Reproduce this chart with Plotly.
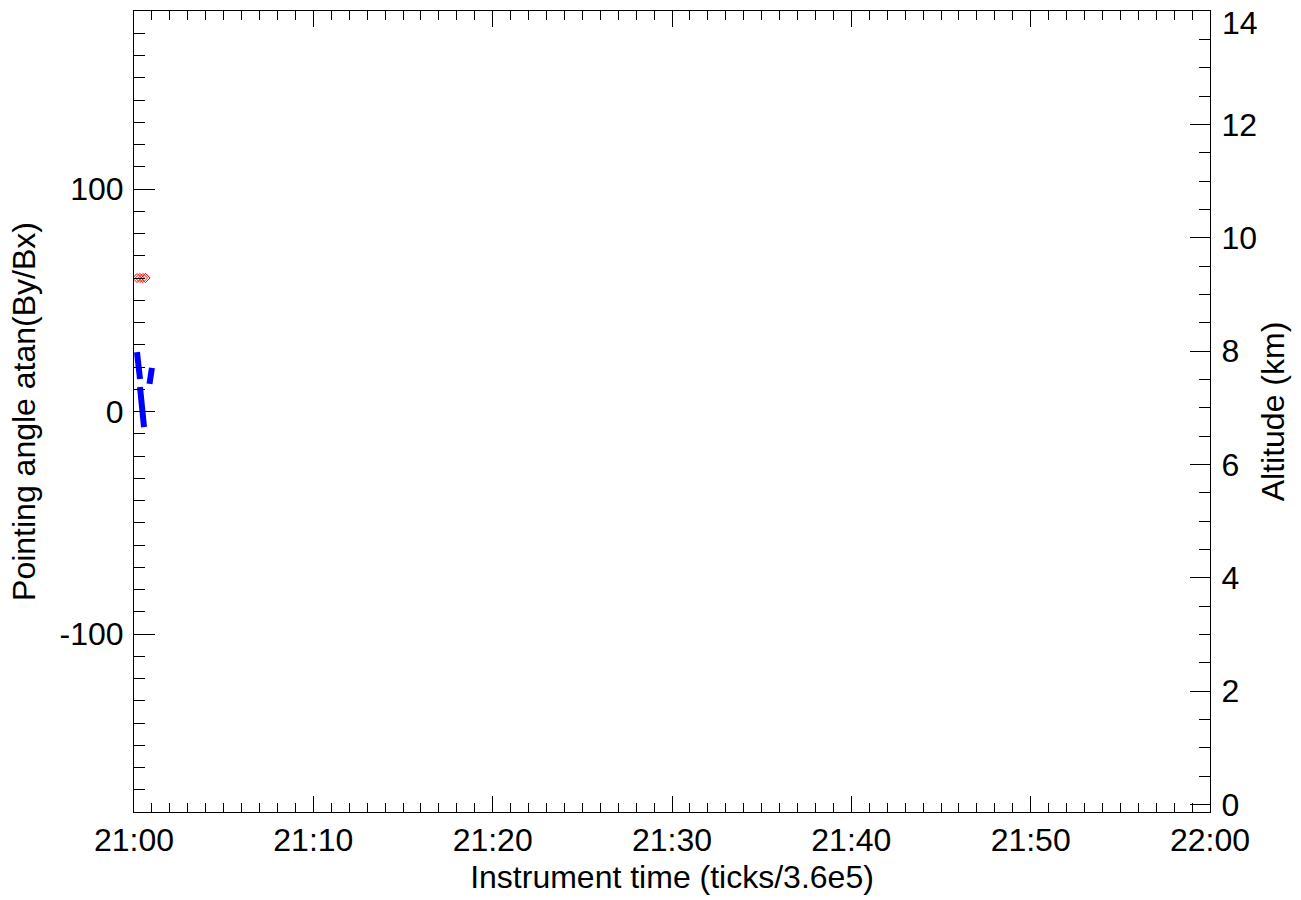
import plotly.graph_objects as go
from datetime import datetime, timedelta

# ---- data ----
base_time = "2000-01-01 21:00:00"
blue_minutes = [0.167, 0.335, None, 0.335, 0.558, None, 0.864, 1.0]
blue_angle = [26.7, 14.6, None, 11.0, -7.0, None, 12.4, 19.6]
red_minutes = [0.17, 0.33, 0.50, 0.64]
red_angle = [60, 60, 60, 60]
x_range = ["2000-01-01 21:00:00", "2000-01-01 22:00:00"]
y_range = [-180, 180]
y_tickvals = [-100, 0, 100]
y_ticktext = ["-100", "0", "100"]
y2_range = [-0.135, 14.0]
y2_tickvals = [0, 2, 4, 6, 8, 10, 12, 14]
y2_ticktext = ["0", "2", "4", "6", "8", "10", "12", "14"]

t0 = datetime.strptime(base_time, "%Y-%m-%d %H:%M:%S")


def to_time(m):
    return None if m is None else t0 + timedelta(minutes=m)


FONT = "Liberation Sans, Arial, sans-serif"
FS = 32
fig = go.Figure()
fig.add_trace(go.Scatter(
    x=[to_time(m) for m in blue_minutes], y=blue_angle, mode="lines",
    line=dict(color="#0000ff", width=6), connectgaps=False, showlegend=False,
    hoverinfo="skip"))
fig.add_trace(go.Scatter(
    x=[to_time(m) for m in red_minutes], y=red_angle, mode="markers",
    marker=dict(symbol="diamond-open", color="#ff0000", size=7,
                line=dict(width=1, color="#ff0000")),
    showlegend=False))
# empty trace so the altitude axis is drawn
fig.add_trace(go.Scatter(x=[], y=[], yaxis="y2", showlegend=False))

# the top label of the altitude axis sits just below its tick (as in the source)
top_val, top_txt = y2_tickvals[-1], y2_ticktext[-1]
fig.add_annotation(
    text=top_txt, xref="paper", x=1, yref="y2", y=top_val,
    xanchor="left", yanchor="middle", xshift=10, yshift=-12,
    showarrow=False, font=dict(family=FONT, size=FS, color="black"))

fig.update_layout(
    width=1301, height=900,
    margin=dict(l=134, r=91, t=11, b=88, autoexpand=False),
    paper_bgcolor="white", plot_bgcolor="white",
    font=dict(family=FONT, size=FS, color="black"),
    xaxis=dict(
        type="date", range=x_range, dtick=600000, tickformat="%H:%M",
        automargin=False,
        showgrid=False, zeroline=False, showline=True, linecolor="black",
        linewidth=1, mirror="ticks", ticks="inside", ticklen=16,
        tickcolor="black", tickfont=dict(size=FS),
        minor=dict(dtick=60000, ticks="inside", ticklen=9, tickcolor="black",
                   showgrid=False),
        title=dict(text="Instrument time (ticks/3.6e5)", font=dict(size=FS),
                   standoff=8),
    ),
    yaxis=dict(
        range=y_range, tickvals=y_tickvals, ticktext=y_ticktext,
        automargin=False, ticklabelstandoff=3,
        showgrid=False, zeroline=False,
        showline=True, linecolor="black", linewidth=1, ticks="inside",
        ticklen=21, tickcolor="black", tickfont=dict(size=FS),
        minor=dict(dtick=10, tick0=0, ticks="inside", ticklen=11,
                   tickcolor="black", showgrid=False),
        title=dict(text="Pointing angle atan(By/Bx)", font=dict(size=FS),
                   standoff=14),
    ),
    yaxis2=dict(
        range=y2_range, tickvals=y2_tickvals[:-1], ticktext=y2_ticktext[:-1],
        overlaying="y", side="right",
        automargin=False, ticklabelstandoff=4,
        showgrid=False, zeroline=False, showline=True, linecolor="black",
        linewidth=1, ticks="inside", ticklen=20, tickcolor="black",
        tickfont=dict(size=FS),
        minor=dict(dtick=0.5, tick0=0, ticks="inside", ticklen=11,
                   tickcolor="black", showgrid=False),
        title=dict(text="Altitude (km)", font=dict(size=FS), standoff=5),
    ),
)

fig.write_html("out.html",
               config={"displayModeBar": False},
               post_script="document.body.style.margin='0';"
                           "document.body.style.overflow='hidden';")
